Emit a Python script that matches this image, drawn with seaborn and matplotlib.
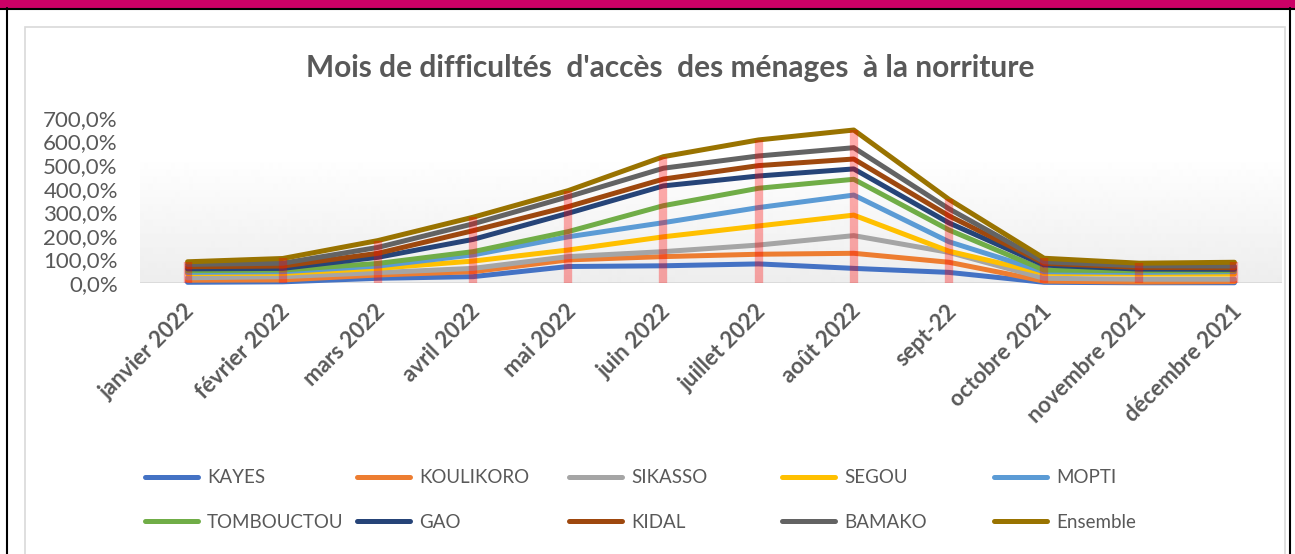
import numpy as np
import pandas as pd
import seaborn as sns
import matplotlib.pyplot as plt
import matplotlib.transforms as mtrans
from matplotlib.ticker import FuncFormatter
from matplotlib.patches import Rectangle
from matplotlib.lines import Line2D

# months as shown on the x axis
months = ['janvier 2022', 'février 2022', 'mars 2022', 'avril 2022', 'mai 2022',
          'juin 2022', 'juillet 2022', 'août 2022', 'sept-22', 'octobre 2021',
          'novembre 2021', 'décembre 2021']

# share of households (%) per region and month, stacked in the chart
kayes = [3, 5, 20, 27, 70, 73, 81, 62, 45, 3, 1, 1]
koulikoro = [9, 8, 14, 21, 28, 39, 41, 64, 43, 5, 3, 5]
sikasso = [10, 14, 10, 14, 14, 21, 39, 75, 42, 12, 12, 10]
segou = [18, 14, 18, 31, 28, 63, 81, 87, 5, 21, 22, 22]
mopti = [5, 7, 10, 26, 56, 60, 78, 85, 40, 7, 7, 10]
tombouctou = [7, 7, 11, 14, 22, 72, 82, 67, 50, 7, 7, 4]
gao = [8, 7, 26, 52, 78, 84, 52, 44, 30, 21, 7, 6]
kidal = [9, 10, 17, 37, 28, 29, 44, 42, 30, 8, 7, 7]
bamako = [10, 12, 25, 29, 42, 46, 41, 48, 30, 6, 7, 7]
ensemble = [11, 20, 29, 28, 26, 49, 68, 75, 40, 15, 11, 16]

regions = ['KAYES', 'KOULIKORO', 'SIKASSO', 'SEGOU', 'MOPTI',
           'TOMBOUCTOU', 'GAO', 'KIDAL', 'BAMAKO', 'Ensemble']
series = [kayes, koulikoro, sikasso, segou, mopti,
          tombouctou, gao, kidal, bamako, ensemble]
colors = ['#4472C4', '#ED7D31', '#A5A5A5', '#FFC000', '#5B9BD5',
          '#70AD47', '#264478', '#9E480E', '#636363', '#997300']

# stacked lines -> cumulative sums
cum = np.cumsum(np.array(series, dtype=float), axis=0)
rows = []
for name, vals in zip(regions, cum):
    for i, v in enumerate(vals):
        rows.append({'x': i, 'mois': months[i], 'region': name, 'val': v})
df = pd.DataFrame(rows)

sns.set_style('white')
plt.rcParams['font.family'] = ['Lato', 'DejaVu Sans']
grey_txt = '#595959'

fig = plt.figure(figsize=(12.95, 5.54), dpi=100)

# page decorations (table header band + borders)
fig.add_artist(Rectangle((0, 1 - 8 / 554), 1, 8 / 554, transform=fig.transFigure,
                         facecolor='#CC0066', edgecolor='none'))
fig.add_artist(Line2D([0, 1], [1 - 8.5 / 554] * 2, transform=fig.transFigure, color='black', lw=1.5))
fig.add_artist(Line2D([7 / 1295] * 2, [0, 1 - 8 / 554], transform=fig.transFigure, color='black', lw=1.5))
fig.add_artist(Line2D([1290 / 1295] * 2, [0, 1 - 8 / 554], transform=fig.transFigure, color='black', lw=1.5))
fig.add_artist(Rectangle((25 / 1295, -0.05), 1260 / 1295, 1.05 - 27 / 554, transform=fig.transFigure,
                         facecolor='none', edgecolor='#D9D9D9', lw=1.2))

ax = fig.add_axes([140 / 1295, (554 - 283) / 554, 1142 / 1295, 165 / 554])

# soft gradient of the plot area
grad = np.linspace(0.93, 1.0, 256).reshape(-1, 1)
ax.imshow(grad, extent=[-0.5, 11.5, 0, 543], origin='lower', aspect='auto',
          cmap='gray', vmin=0, vmax=1, zorder=0)

sns.lineplot(data=df, x='x', y='val', hue='region', hue_order=regions,
             palette=colors, linewidth=3.6, legend=False, ax=ax, zorder=3)
for ln in ax.get_lines():
    ln.set_clip_on(False)
    ln.set_solid_joinstyle('round')
    ln.set_solid_capstyle('round')

# red drop lines from the axis up to the top series
ax.vlines(range(len(months)), 0, cum[-1], colors='#FF0000', alpha=0.33, lw=6, zorder=5)

ax.axhline(0, color='#D9D9D9', lw=2, zorder=1)
ax.set_xlim(-0.5, 11.5)
ax.set_ylim(0, 700)
ax.set_yticks(np.arange(0, 701, 100))
ax.yaxis.set_major_formatter(FuncFormatter(lambda v, p: f'{v:.1f}'.replace('.', ',') + '%'))
ax.set_xticks(range(len(months)))
ax.set_xticklabels(months, rotation=45, ha='right', va='center', rotation_mode='anchor',
                   fontweight='bold')
ax.tick_params(axis='x', length=0, pad=18, labelsize=16, labelcolor=grey_txt)
ax.tick_params(axis='y', length=0, pad=16, labelsize=16, labelcolor=grey_txt)
shift = mtrans.ScaledTranslation(4 / 100, 0, fig.dpi_scale_trans)
for lab in ax.get_xticklabels():
    lab.set_transform(lab.get_transform() + shift)
ax.set_xlabel('')
ax.set_ylabel('')
sns.despine(ax=ax, left=True, bottom=True)
ax.set_facecolor('none')

fig.text(670 / 1295, 1 - 68 / 554, "Mois de difficultés  d'accès  des ménages  à la norriture",
         ha='center', va='center', fontsize=21.5, fontweight='bold', color=grey_txt)

# legend in five fixed columns, two rows
handles = ax.get_lines()[:len(regions)]
col_x = [145, 357, 569, 782, 994]
for c in range(5):
    hs = [handles[c], handles[c + 5]]
    labs = [regions[c], regions[c + 5]]
    leg = fig.legend(hs, labs, loc='center left', bbox_to_anchor=(col_x[c] / 1295, (554 - 500) / 554),
                     frameon=False, fontsize=13.5, handlelength=2.8, handletextpad=0.5,
                     labelspacing=1.45, borderpad=0, borderaxespad=0, labelcolor=grey_txt)

fig.savefig('out.png', dpi=100)
